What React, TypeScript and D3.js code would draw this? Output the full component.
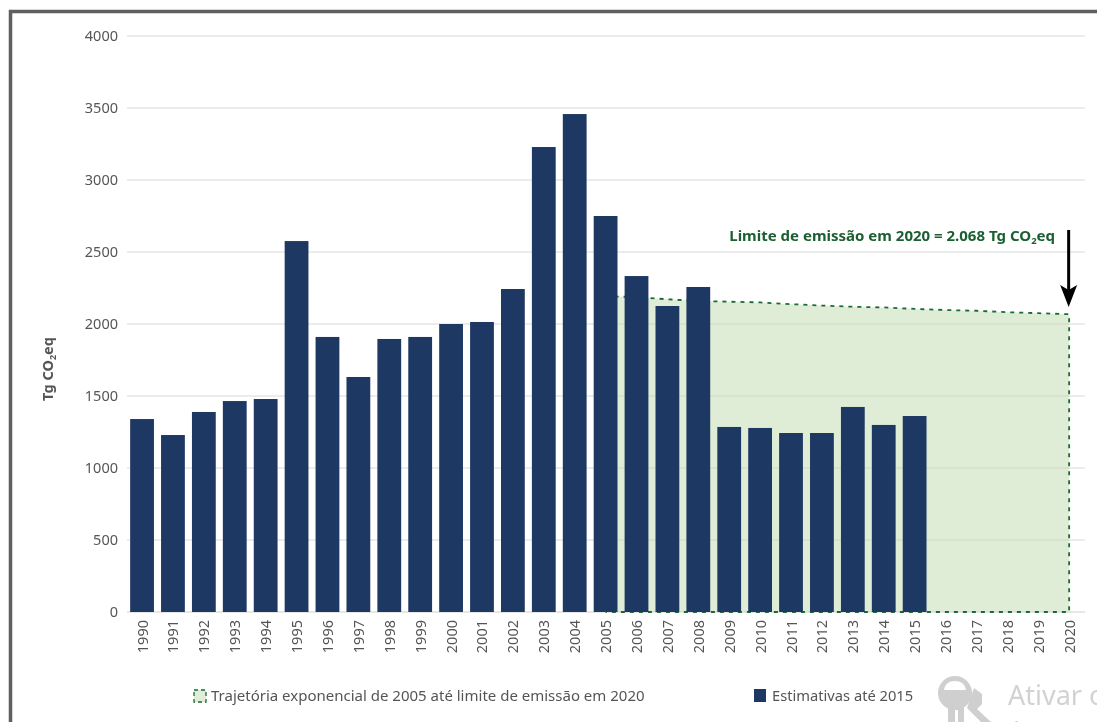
import React from "react";
import * as d3 from "d3";

const years = d3.range(1990, 2021).map(String);
const barYears = d3.range(1990, 2016).map(String);
const estimates = [1340, 1229, 1389, 1465, 1479, 2576, 1910, 1632, 1896, 1910, 2000, 2014, 2243, 3229, 3458, 2750, 2333, 2125, 2257, 1285, 1278, 1243, 1243, 1424, 1299, 1361];
const trajectoryYears = d3.range(2005, 2021).map(String);
const trajectory = [2195, 2185, 2172, 2160, 2155, 2150, 2138, 2128, 2120, 2115, 2105, 2097, 2092, 2082, 2075, 2068];
const yTicks = [0, 500, 1000, 1500, 2000, 2500, 3000, 3500, 4000];
const legendArea = "Trajetória exponencial de 2005 até limite de emissão em 2020";
const legendBars = "Estimativas até 2015";

const FONT = "'Noto Sans','Open Sans',sans-serif";
const W = 1097, H = 722;

export default function App() {
  const x = d3.scaleBand<string>().domain(years).range([126.6, 1084.6]).paddingInner(0.23).paddingOuter(0.115);
  const y = d3.scaleLinear().domain([0, 4000]).range([612, 36]);
  const cx = (s: string) => (x(s) as number) + x.bandwidth() / 2;
  const pts = trajectoryYears.map((s, i) => ({ s, v: trajectory[i] }));
  const area = d3.area<{ s: string; v: number }>().x(d => cx(d.s)).y0(y(0)).y1(d => y(d.v))(pts) as string;
  const line = d3.line<{ s: string; v: number }>().x(d => cx(d.s)).y(d => y(d.v))(pts) as string;
  const x2020 = cx("2020");
  const x2005 = cx("2005");
  const outline = `${line}L${x2020},${y(0)}L${x2005},${y(0)}`;
  return (
    <svg width={W} height={H} viewBox={`0 0 ${W} ${H}`} style={{ position: "fixed", left: 0, top: 0, display: "block", background: "#fff" }}>
      <defs>
        <filter id="soft" x="-2%" y="-2%" width="104%" height="104%">
          <feGaussianBlur stdDeviation="0.55" />
        </filter>
      </defs>
      <g filter="url(#soft)">
        <path d={`M10.5,${H + 5}V11.5H${W + 5}`} fill="none" stroke="#5f5f5f" strokeWidth={3.5} />
        {yTicks.map(t => (
          <g key={t}>
            <line x1={127} x2={1085} y1={y(t)} y2={y(t)} stroke={t === 0 ? "#cfcfcf" : "#d8d8d8"} strokeWidth={1} />
            <text x={118} y={y(t) + 5} textAnchor="end" fontFamily={FONT} fontSize={14.5} fill="#555">{t}</text>
          </g>
        ))}
        <path d={area} fill="#c5dfb4" fillOpacity={0.55} />
        <path d={outline} fill="none" stroke="#1b6a37" strokeWidth={1.8} strokeDasharray="4 5" />
        {barYears.map((s, i) => (
          <rect key={s} x={x(s)} width={x.bandwidth()} y={y(estimates[i])} height={y(0) - y(estimates[i])} fill="#1f3864" />
        ))}
        {years.map(s => (
          <text key={s} transform={`translate(${cx(s) + 5.5},620) rotate(-90)`} textAnchor="end" fontFamily={FONT} fontSize={14.5} fill="#555">{s}</text>
        ))}
        <text transform="translate(53,369) rotate(-90)" textAnchor="middle" fontFamily={FONT} fontSize={14.5} fontWeight={700} fill="#555">
          Tg CO<tspan fontSize={9} dy={3}>2</tspan><tspan dy={-3}>eq</tspan>
        </text>
        <text x={1055} y={241} textAnchor="end" fontFamily={FONT} fontSize={15} fontWeight={700} fill="#1b5e30">
          Limite de emissão em 2020 = 2.068 Tg CO<tspan fontSize={9.5} dy={3}>2</tspan><tspan dy={-3}>eq</tspan>
        </text>
        <line x1={x2020 - 0.5} x2={x2020 - 0.5} y1={230} y2={290} stroke="#000" strokeWidth={3} />
        <path d={`M${x2020 - 9},285 L${x2020 - 0.5},290 L${x2020 + 8},285 L${x2020 - 0.5},307 Z`} fill="#000" />
        <rect x={194} y={690} width={12} height={12} fill="#c5dfb4" fillOpacity={0.55} stroke="#1b6a37" strokeWidth={1.3} strokeDasharray="4 3" />
        <text x={211} y={701} fontFamily={FONT} fontSize={15} fill="#555">{legendArea}</text>
        <rect x={754} y={689} width={12} height={13} fill="#1f3864" />
        <text x={772} y={701} fontFamily={FONT} fontSize={14.7} fill="#555">{legendBars}</text>
        <g fill="#cfcfcf">
          <path fillRule="evenodd" d="M955,676a17,17 0 1,1 -0.01,0ZM955,681c-6,0-10,3-11,9h22c-1,-6-5,-9-11,-9Z" />
          <rect x={948} y={708} width={7} height={14} />
          <rect x={958} y={708} width={6} height={14} />
          <path d="M974,688 l8,6 l0,10 l-5,5 l14,13 h-10 l-14,-14 Z" />
        </g>
        <text x={1008} y={705} fontFamily={FONT} fontSize={27} fill="#d2d2d2">Ativar o</text>
        <text x={1008} y={741} fontFamily={FONT} fontSize={27} fill="#d2d2d2">A</text>
      </g>
    </svg>
  );
}
